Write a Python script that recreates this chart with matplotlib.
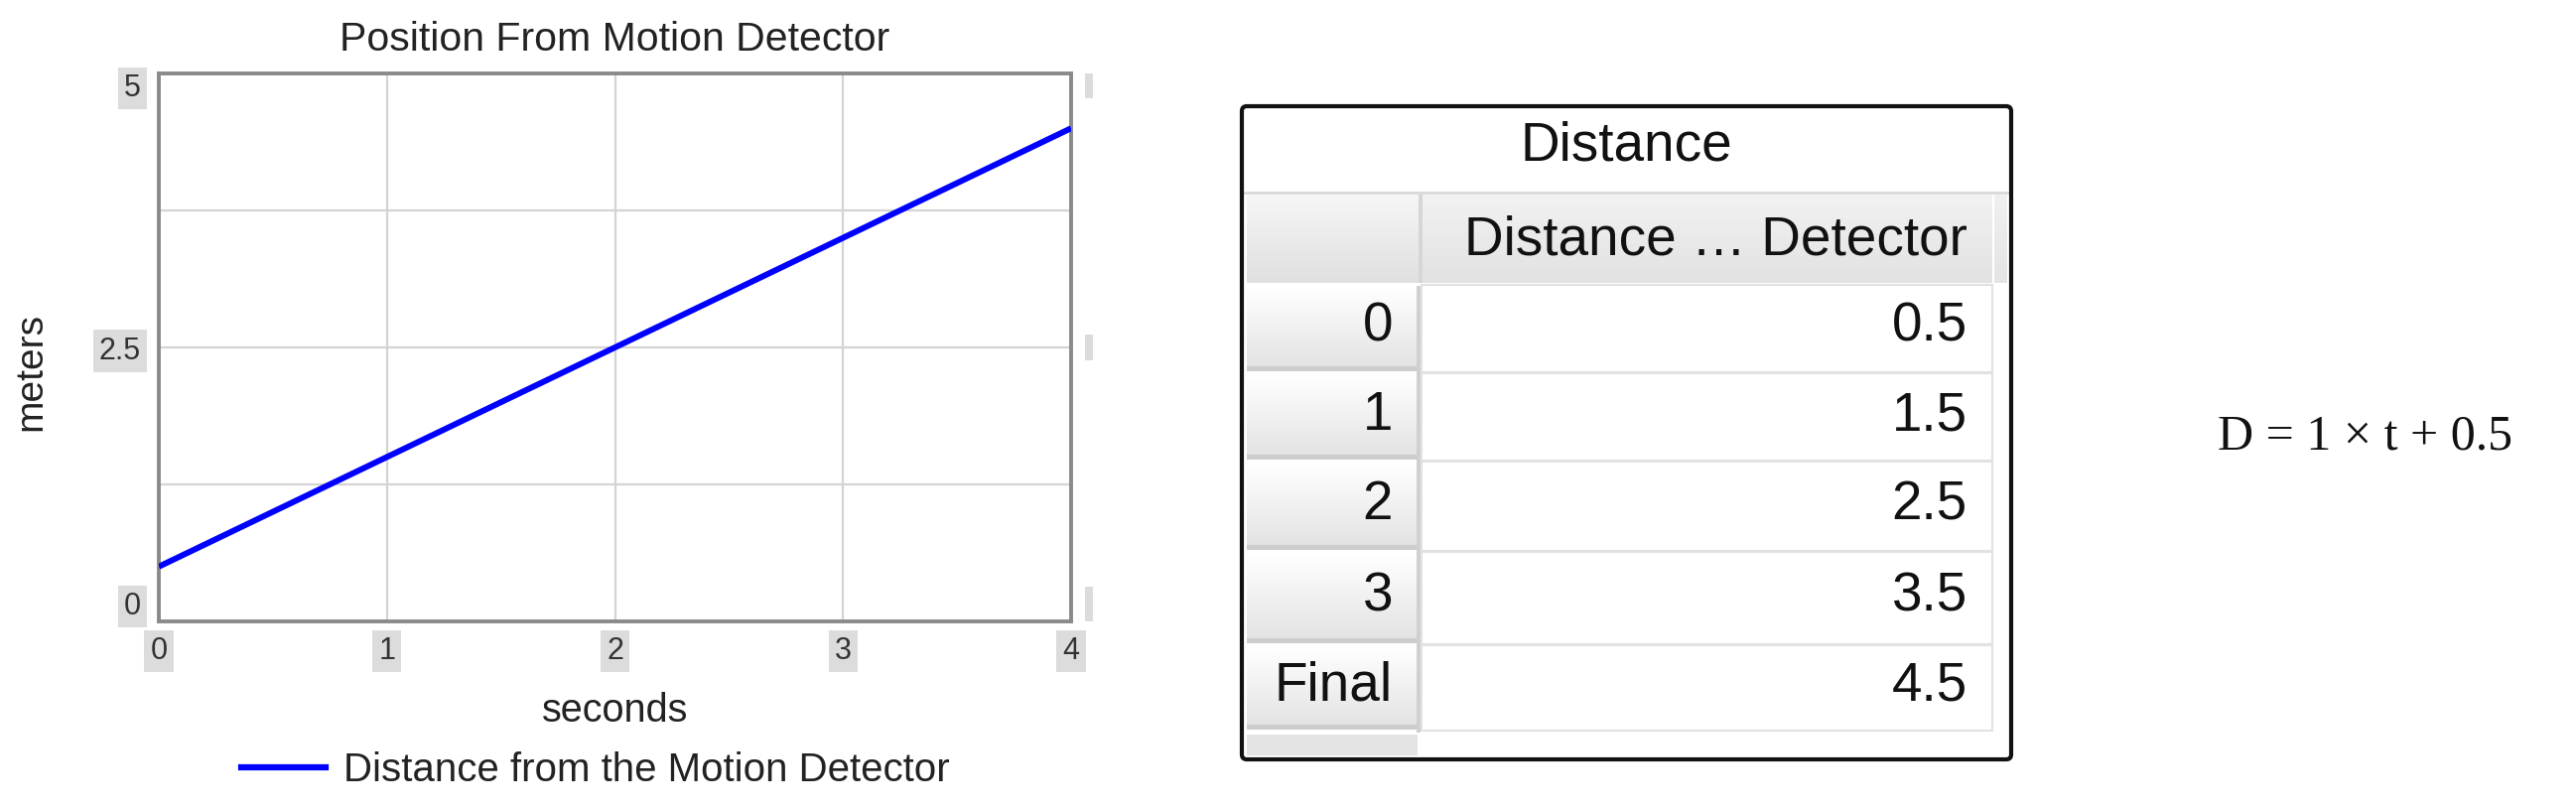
import numpy as np
import matplotlib
matplotlib.use("Agg")
import matplotlib.pyplot as plt
from matplotlib.patches import Rectangle, FancyBboxPatch
from matplotlib.lines import Line2D
import matplotlib.transforms as mtransforms

# ---------------- data ----------------
time_s = [0, 1, 2, 3, 4]
distance_m = [0.5, 1.5, 2.5, 3.5, 4.5]
row_labels = ["0", "1", "2", "3", "Final"]
x_ticks = [0, 1, 2, 3, 4]
y_ticks = [0, 2.5, 5]
y_tick_labels = ["0", "2.5", "5"]
y_minor = [1.25, 3.75]
chart_title = "Position From Motion Detector"
series_name = "Distance from the Motion Detector"
table_title = "Distance"
table_header = "Distance \u2026 Detector"
slope = 1
intercept = 0.5

plt.rcParams["font.family"] = ["Liberation Sans", "DejaVu Sans"]

W, H = 2595, 816
fig = plt.figure(figsize=(W / 100, H / 100), dpi=100)
fig.patch.set_facecolor("white")

# ---------------- chart ----------------
ax_l, ax_r, ax_t, ax_b = 160, 1079, 74, 626
ax = fig.add_axes([ax_l / W, 1 - ax_b / H, (ax_r - ax_l) / W, (ax_b - ax_t) / H])
ax.plot(time_s, distance_m, color="#0000ff", lw=4.3, solid_capstyle="butt",
        label=series_name, zorder=3)
ax.set_xlim(0, 4)
ax.set_ylim(0, 5)
ax.set_xticks(x_ticks)
ax.set_xticklabels([str(v) for v in x_ticks])
ax.set_yticks(y_ticks)
ax.set_yticklabels(y_tick_labels)
ax.set_yticks(y_minor, minor=True)
ax.grid(True, which="both", color="#d4d4d4", lw=1.6)
ax.tick_params(which="both", length=0)
ax.tick_params(axis="x", pad=11, labelsize=22, labelcolor="#333333")
ax.tick_params(axis="y", pad=13, labelsize=22, labelcolor="#333333")
box = dict(boxstyle="square,pad=0.2", facecolor="#dcdcdc", edgecolor="none")
for lab in ax.get_xticklabels() + ax.get_yticklabels():
    lab.set_bbox(box)
ylabs = ax.get_yticklabels()
ylabs[0].set_verticalalignment("bottom")
ylabs[-1].set_verticalalignment("top")
for s in ax.spines.values():
    s.set_color("#8a8a8a")
    s.set_linewidth(2.8)

# right-side empty label boxes
trans = mtransforms.blended_transform_factory(ax.transAxes, ax.transData)
for y0, y1 in [(4.77, 5.0), (2.38, 2.62), (0.0, 0.32)]:
    ax.add_patch(Rectangle((1.0152, y0), 0.0087, y1 - y0, transform=trans,
                           facecolor="#dcdcdc", edgecolor="none", clip_on=False))

ax.text(0.5, 1.062, chart_title, transform=ax.transAxes, ha="center", va="center",
        fontsize=29.5, color="#222222")
ax.set_xlabel("seconds", fontsize=28.5, color="#222222")
ax.xaxis.set_label_coords(0.5, -0.128)
ax.set_ylabel("meters", fontsize=28, color="#222222")
ax.yaxis.set_label_coords(-0.12, 0.456)

fig.legend(handles=[Line2D([], [], color="#0000ff", lw=4.5)], labels=[series_name],
           loc="center", bbox_to_anchor=(600 / W, 1 - 776 / H), frameon=False,
           fontsize=29, handlelength=2.1, handletextpad=0.45, labelcolor="#222222")

# ---------------- table ----------------
tb = fig.add_axes([0, 0, 1, 1], zorder=-1)
tb.set_xlim(0, W)
tb.set_ylim(H, 0)
tb.axis("off")


def grad(x0, x1, y0, y1, c_top, c_bot):
    a = np.linspace(0, 1, 64)[:, None]
    ct = np.array(matplotlib.colors.to_rgb(c_top))
    cb = np.array(matplotlib.colors.to_rgb(c_bot))
    img = ct[None, None, :] * (1 - a[..., None]) + cb[None, None, :] * a[..., None]
    img = np.repeat(img, 2, axis=1)
    tb.imshow(img, extent=(x0, x1, y1, y0), aspect="auto", interpolation="bilinear", zorder=1)


tL, tR, tT, tB = 1251, 2026, 107, 765
colL, colM, colR = 1256, 1431, 2007
hdr_t, hdr_b = 196, 285
row_edges = [287, 376, 465, 556, 650, 737]
FS = 39.5

# header row
grad(colL, colM - 2, hdr_t, hdr_b, "#f6f6f6", "#e0e0e0")
grad(colM + 2, colR, hdr_t, hdr_b, "#f2f2f2", "#e2e2e2")
grad(colR + 2, tR - 4, hdr_t, hdr_b, "#f0f0f0", "#e4e4e4")
tb.add_patch(Rectangle((colM - 2, hdr_t), 4, hdr_b - hdr_t, facecolor="#d6d6d6",
                       edgecolor="none", zorder=2))
tb.plot([tL, tR], [hdr_t - 2, hdr_t - 2], color="#d8d8d8", lw=2, zorder=2)
tb.text((tL + tR) / 2, 148, table_title, ha="center", va="center", fontsize=FS,
        color="#111111", zorder=5)
tb.text(colR - 25, (hdr_t + hdr_b) / 2 + 2, table_header, ha="right", va="center", fontsize=FS,
        color="#111111", zorder=5)

for i, (lab, val) in enumerate(zip(row_labels, distance_m)):
    y0, y1 = row_edges[i], row_edges[i + 1] - 3
    grad(colL, colM - 3, y0 + 2, y1 - 3, "#ffffff", "#e3e3e3")
    tb.add_patch(Rectangle((colL, y1 - 4), colM - 3 - colL, 5, facecolor="#cdcdcd",
                           edgecolor="none", zorder=2))
    tb.add_patch(Rectangle((colM + 1, y0), colR - colM - 1, y1 - y0 + 2, facecolor="white",
                           edgecolor="#e2e2e2", lw=1.5, zorder=2))
    yc = (y0 + y1) / 2
    tb.text(colM - 28, yc, lab, ha="right", va="center", fontsize=FS, color="#111111", zorder=5)
    tb.text(colR - 25, yc, f"{val:g}", ha="right", va="center", fontsize=FS, color="#111111",
            zorder=5)

# bottom strip
tb.add_patch(Rectangle((colL, 740), colM - 3 - colL, tB - 740 - 4, facecolor="#e4e4e4",
                       edgecolor="none", zorder=2))
tb.add_patch(Rectangle((colM - 4, 288), 4, 450, facecolor="#d0d0d0", edgecolor="none", zorder=2))

tb.add_patch(FancyBboxPatch((tL, tT), tR - tL, tB - tT, boxstyle="round,pad=0,rounding_size=5",
                            facecolor="none", edgecolor="#111111", lw=3, zorder=6))

# ---------------- equation ----------------
fig.text(2383 / W, 1 - 440 / H, f"D = {slope:g} \u00d7 t + {intercept:g}",
         ha="center", va="center", fontsize=36, family=["Liberation Serif", "DejaVu Serif"],
         color="#111111")

fig.savefig("out.png", dpi=100)
